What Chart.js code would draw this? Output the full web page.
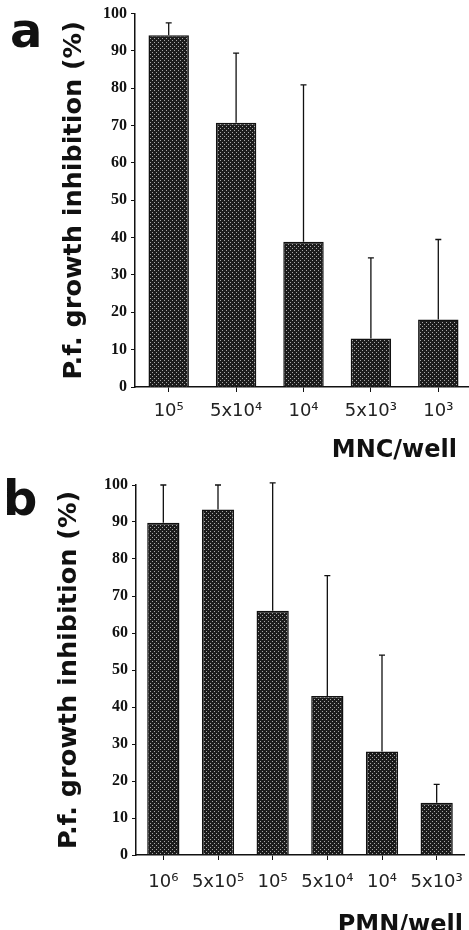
<!DOCTYPE html>
<html>
<head>
<meta charset="utf-8">
<script src="https://cdn.jsdelivr.net/npm/chart.js@4.4.1/dist/chart.umd.min.js"></script>
<style>
  html, body { margin: 0; padding: 0; background: #fff; width: 469px; height: 930px; overflow: hidden; }
  .panel { position: absolute; left: 0; width: 480px; height: 465px; }
  .letra { position: absolute; font-family: "DejaVu Sans"; font-weight: bold; font-size: 48px; line-height: 1; color: #111; }
  .xtitulo { position: absolute; font-family: "DejaVu Sans"; font-weight: bold; font-size: 24px; line-height: 1; color: #111; white-space: nowrap; }
</style>
</head>
<body>
<div class="panel" style="top:0"><canvas id="chartA" width="480" height="465"></canvas></div>
<div class="panel" style="top:465px"><canvas id="chartB" width="480" height="465"></canvas></div>
<div class="letra" style="left:10px; top:6px">a</div>
<div class="letra" style="left:3px; top:474px">b</div>
<div class="xtitulo" style="right:12px; top:437px">MNC/well</div>
<div class="xtitulo" style="right:6px; top:912px">PMN/well</div>

<script>
// datos
const labelsA = ['10⁵', '5x10⁴', '10⁴', '5x10³', '10³'];
const mediasA = [94.2, 70.8, 38.9, 13.0, 18.1];
const erroresA = [97.5, 89.4, 80.9, 34.6, 39.5];

const labelsB = ['10⁶', '5x10⁵', '10⁵', '5x10⁴', '10⁴', '5x10³'];
const mediasB = [89.8, 93.4, 66.0, 43.0, 28.0, 14.1];
const erroresB = [100, 100, 100.6, 75.5, 54.0, 19.1];

const ticksY = [0, 10, 20, 30, 40, 50, 60, 70, 80, 90, 100];
const tituloY = 'P.f. growth inhibition (%)';

// barras de error (solo hacia arriba)
const barrasError = {
    id: 'barrasError',
    afterDatasetsDraw(chart) {
        const ctx = chart.ctx;
        const ds = chart.data.datasets[0];
        const meta = chart.getDatasetMeta(0);
        const y = chart.scales.y;
        ctx.save();
        ctx.strokeStyle = '#111';
        ctx.lineWidth = 1.3;
        meta.data.forEach((bar, i) => {
            const yTop = y.getPixelForValue(ds.errorTop[i]);
            ctx.beginPath();
            ctx.moveTo(bar.x, bar.y);
            ctx.lineTo(bar.x, yTop);
            ctx.moveTo(bar.x - 3, yTop);
            ctx.lineTo(bar.x + 3, yTop);
            ctx.stroke();
        });
        ctx.restore();
    }
};

// relleno punteado de las barras
function patronPuntos(ctx) {
    const c = document.createElement('canvas');
    c.width = 4;
    c.height = 4;
    const p = c.getContext('2d');
    p.fillStyle = '#1c1c1c';
    p.fillRect(0, 0, 4, 4);
    p.fillStyle = '#a8a8a8';
    p.fillRect(0, 0, 1, 1);
    p.fillRect(2, 2, 1, 1);
    return ctx.createPattern(c, 'repeat');
}

function crearGrafico(id, labels, medias, errores, area) {
    const ctx = document.getElementById(id).getContext('2d');
    return new Chart(ctx, {
        type: 'bar',
        data: {
            labels: labels,
            datasets: [{
                data: medias,
                errorTop: errores,
                backgroundColor: patronPuntos(ctx),
                borderColor: '#111',
                borderWidth: 1.5,
                barPercentage: area.bar,
                categoryPercentage: 1
            }]
        },
        options: {
            responsive: false,
            animation: false,
            layout: {
                padding: { left: 0, top: area.top, right: 480 - area.right, bottom: 0 }
            },
            plugins: {
                legend: { display: false },
                tooltip: { enabled: false }
            },
            scales: {
                y: {
                    min: 0,
                    max: 100,
                    afterFit: (s) => { s.width = area.left; },
                    afterBuildTicks: (s) => { s.ticks = ticksY.map(v => ({ value: v })); },
                    ticks: {
                        color: '#111',
                        padding: 4,
                        font: { family: 'Liberation Serif', weight: 'bold', size: 16 }
                    },
                    grid: {
                        drawOnChartArea: false,
                        tickLength: 4,
                        color: '#111'
                    },
                    border: { color: '#111', width: 1.5 },
                    title: {
                        display: true,
                        text: tituloY,
                        color: '#111',
                        padding: { top: area.titlePad, bottom: 0 },
                        font: { family: 'DejaVu Sans', weight: 'bold', size: 25.5 }
                    }
                },
                x: {
                    afterFit: (s) => { s.height = 465 - area.bottom; },
                    grid: {
                        offset: false,
                        drawOnChartArea: false,
                        tickLength: 5,
                        color: '#111'
                    },
                    border: { color: '#111', width: 1.5 },
                    ticks: {
                        color: '#222',
                        padding: area.xPad,
                        maxRotation: 0,
                        autoSkip: false,
                        font: { family: 'DejaVu Sans', size: 18 }
                    }
                }
            }
        },
        plugins: [barrasError]
    });
}

// grafico a
crearGrafico('chartA', labelsA, mediasA, erroresA,
    { left: 135, top: 13, right: 472, bottom: 387, titlePad: 59, xPad: 9, bar: 0.6 });

// grafico b
crearGrafico('chartB', labelsB, mediasB, erroresB,
    { left: 136, top: 20, right: 464, bottom: 390, titlePad: 54, xPad: 12, bar: 0.59 });
</script>
</body>
</html>
